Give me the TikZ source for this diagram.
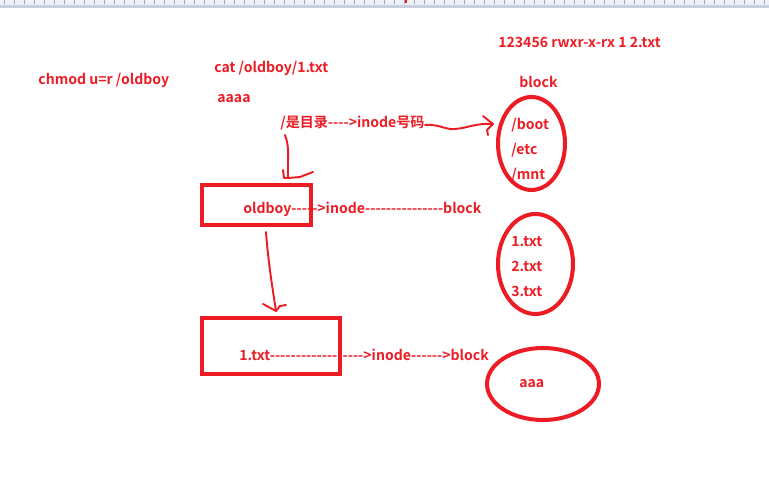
\documentclass[tikz,border=0pt]{standalone}
\usepackage{fontspec}
\setmainfont{Noto Sans CJK SC}[BoldFont=* Bold, Ligatures=TeXOff]
\usetikzlibrary{positioning,shapes.geometric}
\definecolor{paintred}{HTML}{ED1C24}
\definecolor{rulerband}{HTML}{C8D0DF}
\definecolor{rulerface}{HTML}{EEF1F6}

\begin{document}
\begin{tikzpicture}[
        x=0.02cm, y=-0.02cm,
        font=\fontsize{8}{10}\selectfont\bfseries,
        lbl/.style={
            text=paintred,
            anchor=base west,
            inner sep=0pt
        },
        filebox/.style={
            draw=paintred,
            line width=2.4pt,
            inner sep=0pt
        },
        blob/.style={
            ellipse,
            draw=paintred,
            line width=2.3pt,
            inner sep=0pt
        },
        scribble/.style={
            draw=paintred,
            line width=1.1pt,
            line join=round,
            line cap=round
        }
    ]
    \useasboundingbox (0,0) rectangle (769,482);

    % Lineal oben
    \fill[rulerface] (0,0) rectangle (769,5);
    \fill[rulerband] (0,5) rectangle (769,8);
    \foreach \x in {4,14,...,764}
        \draw[gray!70, line width=0.3pt] (\x,0) -- (\x,4);
    \draw[paintred, line width=0.6pt] (406,0) -- (406,3);

    % Befehle
    \node[lbl] (chmod) at (38,85) {chmod u=r /oldboy};
    \node[lbl] (catcmd) at (214,72.5) {cat /oldboy/1.txt};
    \node[lbl] (content) at (217,103) {aaaa};
    \node[lbl] (dirline) at (280,127.5) {/是目录---->inode号码};
    \node[lbl] (perm) at (498,48) {123456 rwxr-x-rx 1 2.txt};
    \node[lbl] (blocklbl) at (519,88) {block};

    % Bloecke
    \node[blob, minimum width=1.34cm, minimum height=1.86cm] (rootblock) at (531.5,143.5) {};
    \node[lbl] (boot) at (511,130) {/boot};
    \node[lbl] (etc) at (511,155) {/etc};
    \node[lbl] (mnt) at (511,180) {/mnt};

    \node[blob, minimum width=1.5cm, minimum height=2.0cm] (dirblock) at (535.5,264) {};
    \node[lbl] (onetxt) at (511,247) {1.txt};
    \node[lbl] (twotxt) at (511,272) {2.txt};
    \node[lbl] (threetxt) at (511,297) {3.txt};

    \node[blob, minimum width=2.24cm, minimum height=1.44cm] (fileblock) at (543,384) {};
    \node[lbl] (filedata) at (519,388) {aaa};

    % Dateien
    \node[lbl] (oldboyline) at (243,214) {oldboy----->inode---------------block};
    \node[filebox, minimum width=2.18cm, minimum height=0.8cm] (oldboy) at (256.5,205) {};

    \node[filebox, minimum width=2.76cm, minimum height=1.12cm] (file) at (271,346) {};
    \node[lbl] (fileline) at (239,360.5) {1.txt------------------>inode------>block};

    % Pfeile (freihand)
    \coordinate (tipA) at (288,178);
    \coordinate (tipB) at (493,124);
    \coordinate (tipC) at (276,311);
    \draw[scribble] (285,135) .. controls (289,145) and (288,155) .. (288,165) -- (tipA)
        -- (300,177) -- (313,172);
    \draw[scribble] (283,170) -- (284,178) -- (tipA);
    \draw[scribble] (425,125) .. controls (440,124) and (445,130) .. (455,129)
        .. controls (468,128) and (475,123) .. (tipB);
    \draw[scribble] (483,116) -- (tipB) -- (487,130) -- (488,135);
    \draw[scribble] (266,232) .. controls (268,260) and (272,285) .. (tipC);
    \draw[scribble] (263,304) -- (tipC) -- (280,306) -- (286,305);
\end{tikzpicture}
\end{document}
